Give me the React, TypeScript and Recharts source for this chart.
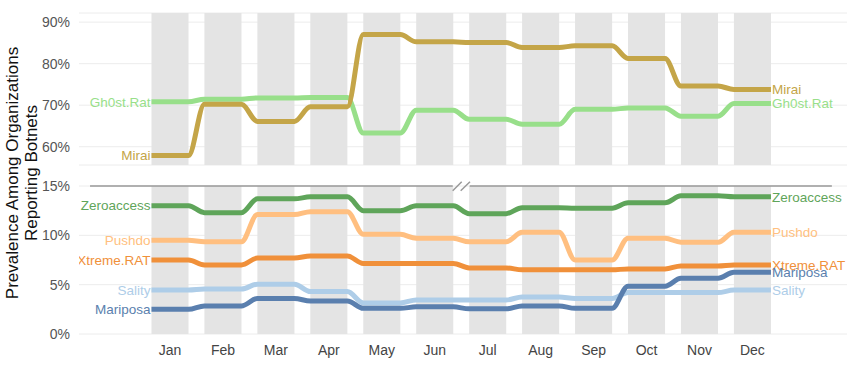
import React from 'react';
import {
  LineChart, Line, XAxis, YAxis, CartesianGrid,
  ReferenceArea, ReferenceLine,
} from 'recharts';

const months = ['Jan', 'Feb', 'Mar', 'Apr', 'May', 'Jun', 'Jul', 'Aug', 'Sep', 'Oct', 'Nov', 'Dec'];

// top panel (55% - 92%)
const mirai = [57.9, 70.2, 66.1, 69.6, 87.0, 85.25, 85.1, 83.9, 84.3, 81.25, 74.6, 73.8];
const gh0stRat = [70.8, 71.45, 71.75, 71.85, 63.3, 68.8, 66.6, 65.4, 69.0, 69.35, 67.35, 70.4];

// bottom panel (0% - 15%)
const zeroaccess = [13.0, 12.3, 13.7, 13.9, 12.5, 13.0, 12.2, 12.8, 12.75, 13.3, 14.0, 13.9];
const pushdo = [9.5, 9.35, 12.1, 12.4, 10.1, 9.7, 9.35, 10.3, 7.5, 9.7, 9.3, 10.3];
const xtremeRat = [7.5, 7.0, 7.7, 7.9, 7.15, 7.15, 6.7, 6.5, 6.5, 6.6, 6.9, 7.0];
const sality = [4.45, 4.55, 5.05, 4.3, 3.15, 3.45, 3.45, 3.75, 3.6, 4.2, 4.2, 4.45];
const mariposa = [2.5, 2.85, 3.6, 3.35, 2.6, 2.75, 2.55, 2.85, 2.6, 4.85, 5.65, 6.25];

const topTicks = [60, 70, 80, 90];
const bottomTicks = [0, 5, 10, 15];

type Series = { name: string; color: string; values: number[] };

const topSeries: Series[] = [
  { name: 'Gh0st.Rat', color: '#98df8a', values: gh0stRat },
  { name: 'Mirai', color: '#c4a548', values: mirai },
];

const bottomSeries: Series[] = [
  { name: 'Zeroaccess', color: '#5fa55a', values: zeroaccess },
  { name: 'Pushdo', color: '#ffbf80', values: pushdo },
  { name: 'Xtreme.RAT', color: '#f0903a', values: xtremeRat },
  { name: 'Sality', color: '#aecde8', values: sality },
  { name: 'Mariposa', color: '#5a7fae', values: mariposa },
];

const HALF = 0.35; // half width of the monthly band, in month units
const X_DOMAIN: [number, number] = [-0.7186, 13.786];
const FONT = '"Liberation Sans", Arial, Helvetica, sans-serif';

// each month is flat across its band
function buildRows(series: Series[]) {
  const rows: Record<string, number>[] = [];
  months.forEach((_, i) => {
    [i + 1 - HALF, i + 1 + HALF].forEach(x => {
      const row: Record<string, number> = { x };
      series.forEach(s => { row[s.name] = s.values[i]; });
      rows.push(row);
    });
  });
  return rows;
}

const topData = buildRows(topSeries);
const bottomData = buildRows(bottomSeries);
const lastIndex = months.length * 2 - 1;

const endLabels = (name: string, color: string) => (props: any) => {
  const { cx, cy, index } = props;
  if (index !== 0 && index !== lastIndex) return <g key={`${name}-${index}`} />;
  const left = index === 0;
  return (
    <text
      key={`${name}-${index}`}
      x={left ? cx - 1 : cx + 1}
      y={cy}
      dy="0.35em"
      textAnchor={left ? 'end' : 'start'}
      fill={color}
      fontSize={13.5}
      fontFamily={FONT}
    >
      {name}
    </text>
  );
};

const bands = months.map((m, i) => (
  <ReferenceArea
    key={m}
    x1={i + 1 - HALF}
    x2={i + 1 + HALF}
    fill="#e4e4e4"
    fillOpacity={1}
    stroke="none"
    ifOverflow="visible"
  />
));

const yTick = { fontSize: 14, fill: '#555', fontFamily: FONT };

export default function App() {
  return (
    <div style={{ position: 'absolute', left: 0, top: 0, width: 850, height: 365, fontFamily: FONT, background: '#fff' }}>
      <div style={{ position: 'absolute', left: 0, top: 0 }}>
        <LineChart width={850} height={175} data={topData} margin={{ top: 13, right: 3, bottom: 10, left: 0 }}>
          <CartesianGrid vertical={false} stroke="#ececec" />
          <XAxis type="number" dataKey="x" domain={X_DOMAIN} allowDataOverflow hide />
          <YAxis
            domain={[55.6, 92.2]}
            ticks={topTicks}
            allowDataOverflow
            width={79}
            axisLine={false}
            tickLine={false}
            tickMargin={3}
            tick={yTick}
            tickFormatter={v => `${v}%`}
          />
          {bands}
          {topSeries.map(s => (
            <Line
              key={s.name}
              type="monotone"
              dataKey={s.name}
              stroke={s.color}
              strokeWidth={5}
              dot={endLabels(s.name, s.color)}
              activeDot={false}
              isAnimationActive={false}
            />
          ))}
        </LineChart>
      </div>
      <div style={{ position: 'absolute', left: 0, top: 0 }}>
        <LineChart width={850} height={365} data={bottomData} margin={{ top: 186, right: 3, bottom: 0, left: 0 }}>
          <CartesianGrid vertical={false} stroke="#ececec" />
          <XAxis
            type="number"
            dataKey="x"
            domain={X_DOMAIN}
            allowDataOverflow
            ticks={months.map((_, i) => i + 1)}
            tickFormatter={v => months[v - 1]}
            axisLine={false}
            tickLine={false}
            height={31}
            tickMargin={5}
            tick={{ fontSize: 14, fill: '#444', fontFamily: FONT }}
          />
          <YAxis
            domain={[0, 15]}
            ticks={bottomTicks}
            allowDataOverflow
            width={79}
            axisLine={false}
            tickLine={false}
            tickMargin={3}
            tick={yTick}
            tickFormatter={v => `${v}%`}
          />
          {bands}
          <ReferenceLine segment={[{ x: -0.51, y: 15 }, { x: 6.34, y: 15 }]} stroke="#999" strokeWidth={1.5} ifOverflow="visible" />
          <ReferenceLine segment={[{ x: 6.66, y: 15 }, { x: 13.5, y: 15 }]} stroke="#999" strokeWidth={1.5} ifOverflow="visible" />
          {bottomSeries.map(s => (
            <Line
              key={s.name}
              type="monotone"
              dataKey={s.name}
              stroke={s.color}
              strokeWidth={5}
              dot={endLabels(s.name, s.color)}
              activeDot={false}
              isAnimationActive={false}
            />
          ))}
        </LineChart>
      </div>
      <svg width={850} height={365} style={{ position: 'absolute', left: 0, top: 0, pointerEvents: 'none' }}>
        <line x1={452.7} y1={190.7} x2={461.7} y2={181.7} stroke="#999" strokeWidth={1.5} />
        <line x1={460.7} y1={190.7} x2={470} y2={181.7} stroke="#999" strokeWidth={1.5} />
        <text transform="translate(18,173) rotate(-90)" textAnchor="middle" fontSize={17} fill="#111" fontFamily={FONT}>
          Prevalence Among Organizations
        </text>
        <text transform="translate(37,173) rotate(-90)" textAnchor="middle" fontSize={17} fill="#111" fontFamily={FONT}>
          Reporting Botnets
        </text>
      </svg>
    </div>
  );
}
